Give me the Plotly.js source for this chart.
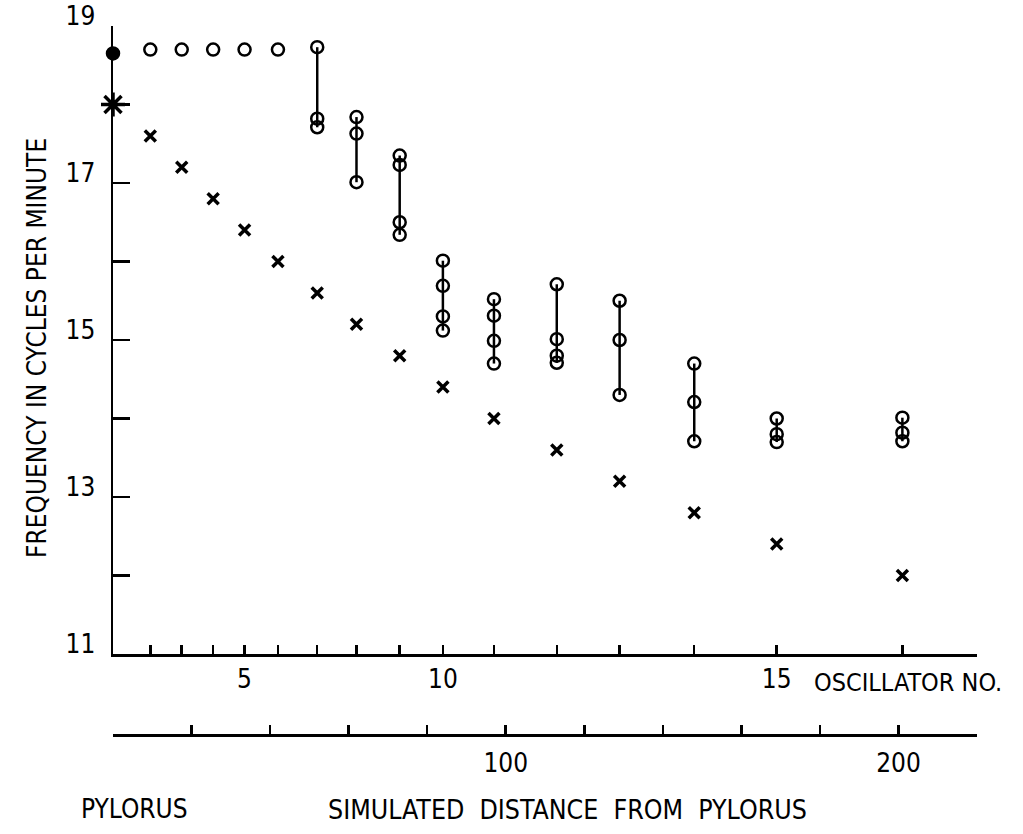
<!DOCTYPE html>
<html>
<head>
<meta charset="utf-8">
<script src="https://cdn.plot.ly/plotly-3.0.1.min.js"></script>
<style>
  html, body { margin: 0; padding: 0; background: #fff; }
  #chart { width: 1023px; height: 834px; }
</style>
</head>
<body>
<div id="chart"></div>
<script>
// Oscillator number and its position along the simulated intestine
const oscillatorNo = [1, 2, 3, 4, 5, 6, 7, 8, 9, 10, 11, 12, 13, 14, 15, 16];
const oscDistance = [0, 9.5, 17.5, 25.5, 33.5, 42, 52, 62, 73, 84, 97, 113, 129, 148, 169, 201];

// Intrinsic (uncoupled) frequency of each oscillator, cycles per minute
const intrinsicFreq = [18.0, 17.6, 17.2, 16.8, 16.4, 16.0, 15.6, 15.2, 14.8, 14.4, 14.0, 13.6, 13.2, 12.8, 12.4, 12.0];

// Frequencies observed in the coupled chain (several values where the oscillator wanders)
const observedFreq = [
  [18.65],
  [18.7],
  [18.7],
  [18.7],
  [18.7],
  [18.7],
  [18.73, 17.82, 17.71],
  [17.84, 17.63, 17.01],
  [17.35, 17.23, 16.5, 16.34],
  [16.01, 15.69, 15.3, 15.12],
  [15.52, 15.31, 14.99, 14.7],
  [15.71, 15.01, 14.8, 14.71],
  [15.5, 15.0, 14.3],
  [14.7, 14.21, 13.71],
  [14.0, 13.8, 13.7],
  [14.01, 13.82, 13.71]
];

// Frequency axis ticks and labels
const freqTicks = [11, 12, 13, 14, 15, 16, 17, 18, 19];
const freqLabels = ['11', '', '13', '', '15', '', '17', '', '19'];

// Distance scale ticks and labels
const distTicks = [0, 20, 40, 60, 80, 100, 120, 140, 160, 180, 200, 220];
const distLabels = ['', '', '', '', '', '100', '', '', '', '', '200', ''];

const FONT = "'Liberation Sans Narrow', 'DejaVu Sans Condensed', 'Arial Narrow', sans-serif";
const INK = '#000';

// Observed values: one vertical run per oscillator, separated by gaps
const obsX = [], obsY = [], obsSym = [];
observedFreq.forEach((vals, i) => {
  vals.forEach(v => {
    obsX.push(oscDistance[i]);
    obsY.push(v);
    obsSym.push(i === 0 ? 'circle' : 'circle-open');
  });
  obsX.push(null); obsY.push(null); obsSym.push('circle-open');
});

const observed = {
  type: 'scatter',
  mode: 'lines+markers',
  x: obsX, y: obsY,
  connectgaps: false,
  cliponaxis: false,
  line: { color: INK, width: 2.5 },
  marker: { symbol: obsSym, size: 12, color: INK, opacity: 1, line: { color: INK, width: 2.5 } },
  hoverinfo: 'skip',
  showlegend: false
};

const intrinsic = {
  type: 'scatter',
  mode: 'markers',
  x: oscDistance, y: intrinsicFreq,
  cliponaxis: false,
  marker: {
    symbol: intrinsicFreq.map((_, i) => i === 0 ? 'asterisk-open' : 'x-thin-open'),
    size: intrinsicFreq.map((_, i) => i === 0 ? 20 : 11),
    color: INK,
    opacity: 1,
    line: { color: INK, width: 3.5 }
  },
  hoverinfo: 'skip',
  showlegend: false
};

// Dummy trace so the distance scale is drawn
const distanceScale = {
  type: 'scatter', mode: 'markers',
  x: [0, 220], y: [null, null],
  xaxis: 'x2', yaxis: 'y',
  hoverinfo: 'skip', showlegend: false
};

// Page geometry (pixels)
const W = 1023, H = 834;
const L = 113, R = 46, T = 26, B = 99;
const plotBottom = 654;
const paperH = H - T - B;
const paperW = W - L - R;
const px = x => (x - L) / paperW;
const py = y => (H - B - y) / paperH;

const layout = {
  width: W, height: H,
  margin: { l: L, r: R, t: T, b: B, pad: 0 },
  paper_bgcolor: '#fff', plot_bgcolor: '#fff',
  font: { family: FONT, color: INK, size: 26 },
  xaxis: {
    range: [0, 220], showgrid: false, zeroline: false,
    showline: true, linecolor: INK, linewidth: 2.5,
    ticks: 'inside', ticklen: 9, tickwidth: 2.5, tickcolor: INK,
    tickmode: 'array',
    tickvals: oscDistance.slice(1),
    ticktext: oscillatorNo.slice(1).map(n => n % 5 === 0 ? String(n) : ''),
    tickfont: { size: 26, family: FONT, color: INK },
    ticklabelstandoff: 0,
    anchor: 'y', fixedrange: true
  },
  xaxis2: {
    range: [0, 220], overlaying: 'x', anchor: 'free', position: 0, side: 'bottom',
    showgrid: false, zeroline: false,
    showline: true, linecolor: INK, linewidth: 2.5,
    ticks: 'inside', ticklen: 9, tickwidth: 2.5, tickcolor: INK,
    tickmode: 'array', tickvals: distTicks, ticktext: distLabels,
    tickfont: { size: 26, family: FONT, color: INK },
    ticklabelstandoff: 4,
    fixedrange: true
  },
  yaxis: {
    domain: [py(plotBottom), 1],
    range: [11, 19], showgrid: false, zeroline: false,
    showline: true, linecolor: INK, linewidth: 2.5,
    ticks: 'inside', ticklen: 17, tickwidth: 2.5, tickcolor: INK,
    tickmode: 'array', tickvals: freqTicks, ticktext: freqLabels,
    tickfont: { size: 26, family: FONT, color: INK },
    ticklabelshift: -10,
    ticklabelstandoff: 10,
    fixedrange: true
  },
  annotations: [
    {
      text: 'OSCILLATOR NO.', xref: 'paper', yref: 'paper',
      x: px(812), y: py(682), xanchor: 'left', yanchor: 'middle',
      showarrow: false, font: { size: 25, family: FONT, color: INK }
    },
    {
      text: 'SIMULATED\u00a0\u00a0DISTANCE\u00a0\u00a0FROM\u00a0\u00a0PYLORUS', xref: 'paper', yref: 'paper',
      x: px(567), y: py(809), xanchor: 'center', yanchor: 'middle',
      showarrow: false, font: { size: 26.5, family: FONT, color: INK }
    },
    {
      text: 'PYLORUS', xref: 'paper', yref: 'paper',
      x: px(134), y: py(809), xanchor: 'center', yanchor: 'middle',
      showarrow: false, font: { size: 26, family: FONT, color: INK }
    },
    {
      text: 'FREQUENCY IN CYCLES PER MINUTE', xref: 'paper', yref: 'paper',
      x: px(37), y: py(348), xanchor: 'center', yanchor: 'middle', textangle: -90,
      showarrow: false, font: { size: 26, family: FONT, color: INK }
    }
  ]
};

Plotly.newPlot('chart', [distanceScale, observed, intrinsic], layout, { displayModeBar: false, staticPlot: true });
</script>
</body>
</html>
